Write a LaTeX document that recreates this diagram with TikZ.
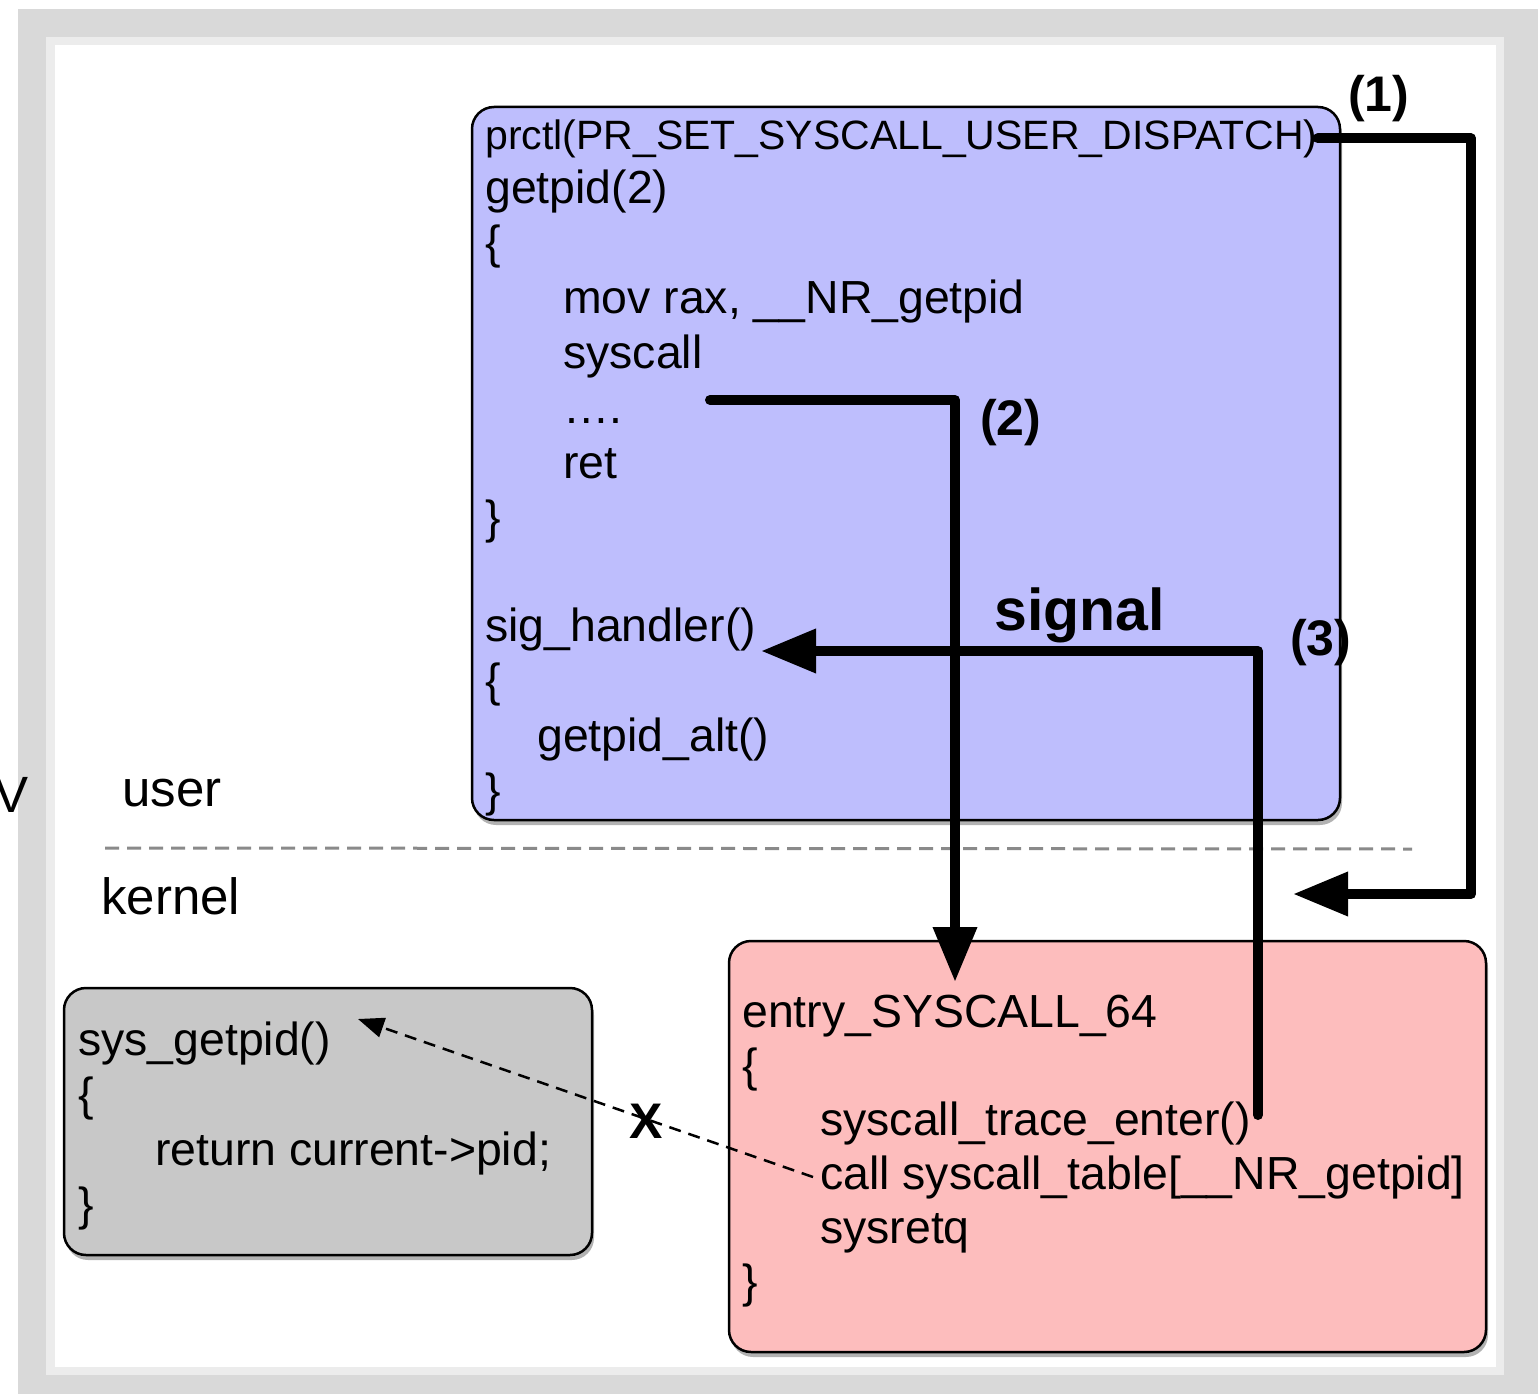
\documentclass[tikz,border=0pt]{standalone}
\usepackage{fontspec}
\setmainfont{Liberation Sans}
\usetikzlibrary{arrows.meta,shadows}

\definecolor{framedark}{RGB}{217,217,217}
\definecolor{framelight}{RGB}{236,236,236}
\definecolor{userblue}{RGB}{190,190,253}
\definecolor{kernred}{RGB}{253,189,189}
\definecolor{boxgray}{RGB}{200,200,200}
\definecolor{sepgray}{RGB}{138,138,138}

\begin{document}
\begin{tikzpicture}[x=1pt,y=-1pt,
 code/.style={font=\fontsize{46.4}{55}\selectfont, anchor=base west, inner sep=0pt},
 codesmall/.style={font=\fontsize{41}{50}\selectfont, anchor=base west, inner sep=0pt},
 region/.style={font=\fontsize{51}{60}\selectfont, anchor=base west, inner sep=0pt},
 steplabel/.style={font=\fontsize{50}{60}\selectfont\bfseries, anchor=base west, inner sep=0pt},
 panel/.style={draw=black, line width=2.5pt, rounded corners=22pt,
   drop shadow={shadow xshift=2pt, shadow yshift=-5pt, opacity=0.3, fill=black}},
 flow/.style={line width=10pt, line join=round, line cap=round,
   -{Triangle[length=55pt,width=42pt]}},
 skip/.style={line width=2.5pt, dash pattern=on 12pt off 8pt,
   -{Triangle[length=26pt,width=20pt]}}
]
\useasboundingbox (0,0) rectangle (1538,1394);
% frame
\fill[white] (0,0) rectangle (1538,1394);
\fill[framedark] (18,9) rectangle (1538,1394);
\fill[framelight] (46,37) rectangle (1504,1375);
\fill[white] (55,45) rectangle (1496,1367);

% panels
\path[panel, fill=userblue] (472,107) rectangle (1340,820);
\path[panel, fill=kernred] (729,941) rectangle (1486,1352);
\path[panel, fill=boxgray] (64,988) rectangle (592,1255);

% separator
\draw[sepgray, line width=3pt, dash pattern=on 14pt off 8pt] (105,848) -- (1412,849);

% user-space code
\node[codesmall] (prctl) at (485,149) {prctl(PR\_SET\_SYSCALL\_USER\_DISPATCH)};
\node[code] (getpid) at (485,203) {getpid(2)};
\node[code] (ob1) at (485,258) {\{};
\node[code] (mov) at (563,313) {mov rax, \_\_NR\_getpid};
\node[code] (sysc) at (563,368) {syscall};
\node[code] (dots) at (563,423) {….};
\node[code] (ret) at (563,478) {ret};
\node[code] (cb1) at (485,533) {\}};
\node[code] (sig) at (485,641) {sig\_handler()};
\node[code] (ob2) at (485,696) {\{};
\node[code] (alt) at (537,751) {getpid\_alt()};
\node[code] (cb2) at (485,806) {\}};

% kernel entry code
\node[code] (entry) at (742,1027) {entry\_SYSCALL\_64};
\node[code] (ob3) at (742,1081) {\{};
\node[code] (trace) at (820,1135) {syscall\_trace\_enter()};
\node[code] (call) at (820,1189) {call syscall\_table[\_\_NR\_getpid]};
\node[code] (sysret) at (820,1243) {sysretq};
\node[code] (cb3) at (742,1297) {\}};

% sys_getpid
\node[code] (sysget) at (78,1055) {sys\_getpid()};
\node[code] (ob4) at (78,1110) {\{};
\node[code] (retpid) at (155,1165) {return current->pid;};
\node[code] (cb4) at (78,1220) {\}};

% region labels
\node[region] (vlab) at (-6,812) {V};
\node[region] (user) at (122,806) {user};
\node[region] (kernel) at (101,914) {kernel};

% step labels
\node[steplabel] (l1) at (1348,112) {(1)};
\node[steplabel] (l2) at (980,435) {(2)};
\node[steplabel] (l3) at (1290,655) {(3)};
\node[font=\fontsize{59}{70}\selectfont\bfseries, anchor=base west, inner sep=0pt] (signal) at (994,630) {signal};

% connectors
\coordinate (c1) at (1471,894);
\coordinate (t1) at (1293,894);
\draw[flow] (prctl.east) -| (c1) -- (t1);

\coordinate (s2) at (710,400);
\coordinate (t2) at (955,982);
\draw[flow] (s2) -| (t2);

\coordinate (s3) at (1258,1115);
\coordinate (t3) at (761,651);
\draw[flow] (s3) |- (t3);

\coordinate (t4) at (358,1019);
\draw[skip] ([xshift=-7pt]call.west) -- (t4);
\node[font=\fontsize{50}{60}\selectfont\bfseries, inner sep=0pt] (xmark) at (646,1121) {X};
\end{tikzpicture}
\end{document}
